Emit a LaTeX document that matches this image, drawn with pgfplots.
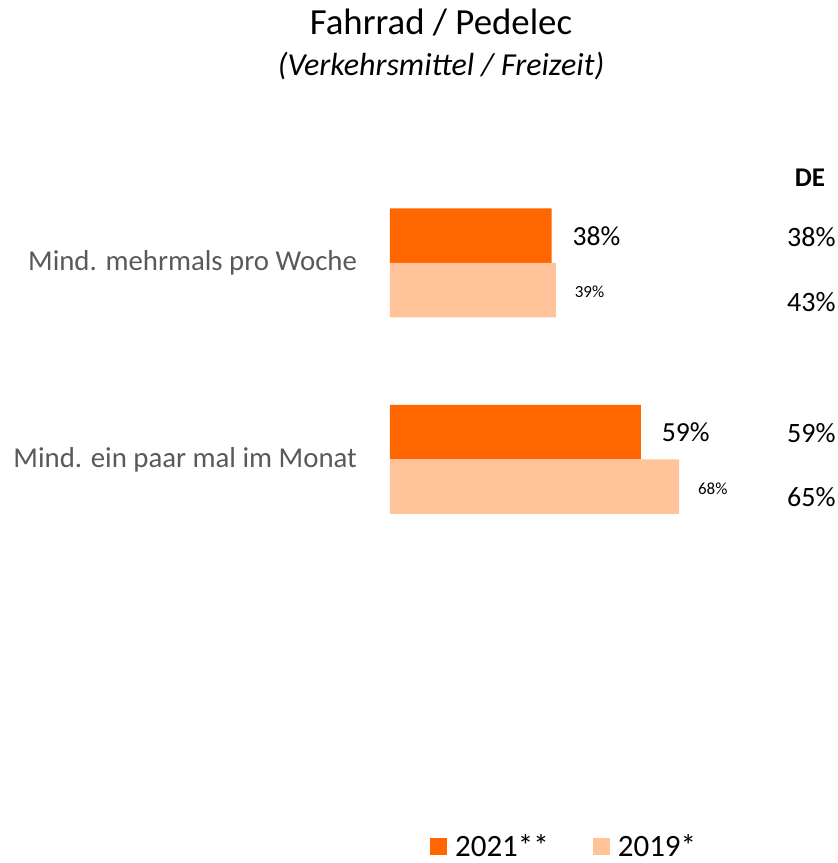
\documentclass[border=0pt]{standalone}
\usepackage{fontspec}
\setmainfont{Carlito}
\usepackage{pgfplots}
\pgfplotsset{compat=1.18}
\definecolor{dark}{HTML}{FF6600}
\definecolor{light}{HTML}{FFC299}
\definecolor{labgray}{HTML}{595959}
\begin{document}
\begin{tikzpicture}
\begin{axis}[
  at={(195pt,349.125pt)}, anchor=north west,
  scale only axis, width=212.5pt, height=196.5pt,
  xmin=0, xmax=100, ymin=-0.5, ymax=1.5,
  xbar, bar width=27.25pt,
  /pgf/number format/assume math mode=true,
  axis line style={draw=none}, xtick=\empty,
  ytick={0,1}, yticklabels={Mind. ein paar mal im Monat, Mind. mehrmals pro Woche},
  major tick length=0pt,
  yticklabel style={font=\fontsize{14.4}{16}\selectfont, text=labgray, xshift=-13pt},
  clip=false,
  legend style={at={(0.412,-0.735)}, anchor=center, draw=none, fill=none,
    legend columns=2, font=\fontsize{15.5}{17}\selectfont,
    /tikz/every even column/.append style={column sep=20pt}},
  legend image code/.code={\fill[#1] (0pt,-4.25pt) rectangle (8.5pt,4.25pt); \path (8.5pt,0pt) -- (10.5pt,0pt);},
]
\addplot[fill=dark, draw=none, bar shift=13.625pt,
  nodes near coords={\pgfmathprintnumber{\pgfplotspointmeta}\%},
  nodes near coords style={font=\fontsize{13.8}{15}\selectfont, anchor=west, xshift=7pt, text=black}]
  coordinates {(38,1) (59,0)};
\addplot[fill=light, draw=none, bar shift=-13.625pt,
  nodes near coords={\pgfmathprintnumber{\pgfplotspointmeta}\%},
  nodes near coords style={font=\fontsize{8.5}{10}\selectfont, anchor=west, xshift=6pt, yshift=-1pt, text=black}]
  coordinates {(39,1) (68,0)};
\legend{2021**, 2019*}
\end{axis}
\node[font=\fontsize{18.4}{20}\selectfont] at (220.5pt, 420pt) {Fahrrad / Pedelec};
\node[font=\fontsize{16}{18}\selectfont\itshape] at (220.5pt, 398.5pt) {(Verkehrsmittel / Freizeit)};
\node[font=\fontsize{13.5}{15}\selectfont\bfseries] at (405pt, 342.5pt) {DE};
\begin{scope}[every node/.style={anchor=east, font=\fontsize{14}{15}\selectfont, inner sep=0pt}]
\node at (418pt, 313pt) {38\%};
\node at (418pt, 280.5pt) {43\%};
\node at (418pt, 215pt) {59\%};
\node at (418pt, 183pt) {65\%};
\end{scope}
\pgfresetboundingbox
\useasboundingbox (0,0) rectangle (419pt,431.5pt);
\end{tikzpicture}
\end{document}
